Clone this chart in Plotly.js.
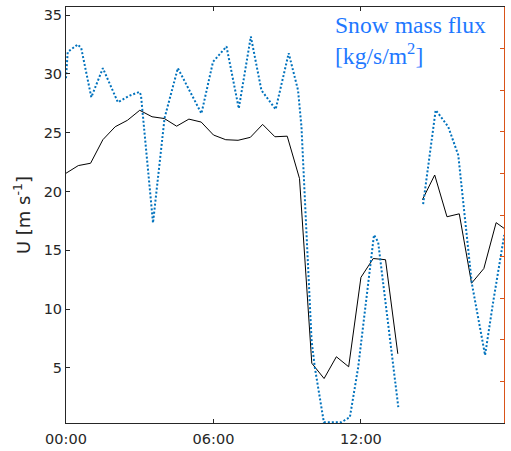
<!DOCTYPE html>
<html>
<head>
<meta charset="utf-8">
<script src="https://cdn.plot.ly/plotly-3.0.1.min.js"></script>
<style>
  html, body { margin: 0; padding: 0; background: #fff; }
  #chart { width: 511px; height: 451px; }
</style>
</head>
<body>
<div id="chart"></div>
<script>
// Wind speed U [m/s], 30-minute samples (hours since 00:00)
const windHours = [0, 0.5, 1, 1.5, 2, 2.5, 3, 3.5, 4, 4.5, 5, 5.5, 6, 6.5, 7, 7.5, 8, 8.5, 9,
                   9.5, 10, 10.5, 11, 11.5, 12, 12.5, 13, 13.5, 14, 14.5, 15, 15.5, 16, 16.5, 17, 17.5, 18];
const windU = [21.55, 22.2, 22.4, 24.4, 25.5, 26.05, 26.9, 26.35, 26.2, 25.55, 26.15, 25.9, 24.8, 24.4, 24.35, 24.6, 25.7, 24.65, 24.7,
               21.1, 5.4, 4.1, 5.95, 5.1, 12.7, 14.3, 14.2, 6.2, null, 19.3, 21.4, 17.85, 18.1, 12.2, 13.45, 17.35, 16.6];

// Snow mass flux (right axis, relative units 0-10)
const snowHours = [0, 0.07, 0.48, 0.62, 1.03, 1.5, 2.11, 2.59, 2.99, 3.05, 3.54, 4.01, 4.55, 5.51, 5.98, 6.53, 7.03, 7.52, 7.95,
                   8.53, 9.06, 9.44, 9.58, 9.78, 9.99, 10.12, 10.49, 11.21, 11.55, 11.89, 12.53, 12.7, 13.52,
                   13.9,
                   14.53, 15.04, 15.15, 15.55, 15.96, 16.16, 16.51, 17.05, 17.39, 17.83];
const snowFlux = [8.29, 8.92, 9.10, 9.01, 7.83, 8.53, 7.71, 7.87, 7.96, 7.88, 4.81, 7.33, 8.53, 7.44, 8.68, 9.05, 7.56, 9.29, 8.00,
                  7.54, 8.89, 8.00, 7.12, 4.56, 1.99, 1.35, 0.02, 0.02, 0.14, 1.35, 4.52, 4.35, 0.38,
                  null,
                  5.26, 7.52, 7.44, 7.12, 6.44, 5.36, 3.36, 1.63, 2.95, 4.52];

const xTickVals = [0, 6, 12];
const xTickText = ['00:00', '06:00', '12:00'];
const yTickVals = [5, 10, 15, 20, 25, 30, 35];
const fluxTickVals = [0, 1, 2, 3, 4, 5, 6, 7, 8, 9, 10];
const fluxLabel = 'Snow mass flux<br>[kg/s/m<sup>2</sup>]';

const axisColor = '#262626';
const orange = '#D95319';
const labelBlue = '#1E78FF';

const traces = [
  {
    x: windHours, y: windU, type: 'scatter', mode: 'lines',
    line: { color: '#000000', width: 1 },
    connectgaps: false, hoverinfo: 'skip'
  },
  {
    x: snowHours, y: snowFlux, type: 'scatter', mode: 'lines', yaxis: 'y2',
    line: { color: '#0072BD', width: 2, dash: '2px,2px' },
    connectgaps: false, hoverinfo: 'skip'
  }
];

const layout = {
  width: 511, height: 451,
  margin: { l: 66, r: 7, t: 7, b: 28, pad: 0 },
  paper_bgcolor: '#ffffff', plot_bgcolor: '#ffffff',
  showlegend: false,
  font: { family: 'DejaVu Sans', size: 14, color: axisColor },
  xaxis: {
    range: [0, 17.82], tickvals: xTickVals, ticktext: xTickText,
    ticks: 'inside', ticklen: 4, tickwidth: 1, tickcolor: axisColor,
    showline: true, linecolor: axisColor, linewidth: 1, mirror: 'ticks',
    showgrid: false, zeroline: false, ticklabelstandoff: 3,
    tickfont: { family: 'DejaVu Sans', size: 14.5, color: axisColor }
  },
  yaxis: {
    range: [0.32, 35.68], tickvals: yTickVals,
    ticks: 'inside', ticklen: 4, tickwidth: 1, tickcolor: axisColor,
    showline: true, linecolor: axisColor, linewidth: 1, mirror: false,
    showgrid: false, zeroline: false,
    tickfont: { family: 'DejaVu Sans', size: 14.5, color: axisColor },
    title: { text: 'U [m s<sup>-1</sup>]', font: { family: 'DejaVu Sans', size: 18, color: axisColor }, standoff: 8 }
  },
  yaxis2: {
    overlaying: 'y', side: 'right', range: [0, 10], tickvals: fluxTickVals,
    ticks: 'inside', ticklen: 4, tickwidth: 1, tickcolor: orange,
    showline: true, linecolor: orange, linewidth: 1,
    showticklabels: false, showgrid: false, zeroline: false
  },
  annotations: [
    {
      xref: 'paper', yref: 'paper', x: 0.612, y: 0.9206, xanchor: 'left', yanchor: 'middle',
      align: 'left', showarrow: false, text: fluxLabel, borderpad: 0,
      font: { family: 'Liberation Serif', size: 23.6, color: labelBlue }
    }
  ]
};

Plotly.newPlot('chart', traces, layout, { displayModeBar: false, staticPlot: true });
</script>
</body>
</html>
